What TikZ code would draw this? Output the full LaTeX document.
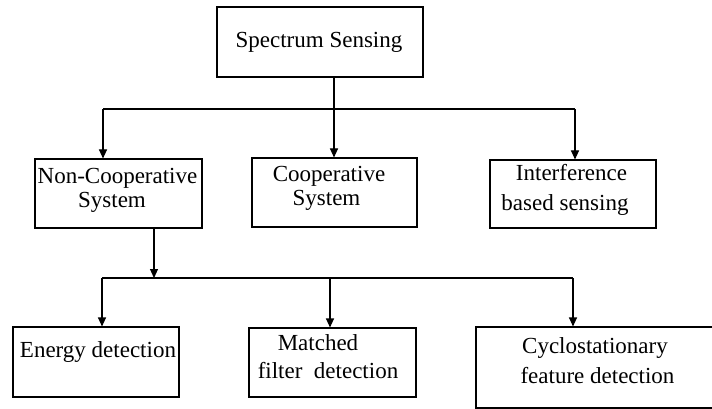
\documentclass[tikz,border=0pt]{standalone}
\usepackage{fontspec}
\setmainfont{Liberation Serif}
\usetikzlibrary{arrows.meta}
\begin{document}
\begin{tikzpicture}[x=1pt,y=-1pt,
  box/.style={draw=black,line width=1.1pt,inner sep=0pt,fill=none},
  lbl/.style={inner sep=0pt,anchor=base,font=\fontsize{23}{25}\selectfont},
  conn/.style={line width=1.1pt,draw=black},
  arr/.style={conn,-{Triangle[length=9pt,width=8pt]}}]
\useasboundingbox (0,0) rectangle (712,409);
\clip (0,0) rectangle (712,409);
\fill[white] (0,0) rectangle (712,409);
% boxes
\node[box,minimum width=206pt,minimum height=70pt] (ss) at (320,42) {};
\node[box,minimum width=167pt,minimum height=69pt] (nc) at (118.5,193.5) {};
\node[box,minimum width=165pt,minimum height=69pt] (coop) at (334.5,192.5) {};
\node[box,minimum width=166pt,minimum height=68pt] (intf) at (573,194) {};
\node[box,minimum width=166pt,minimum height=70pt] (energy) at (96,362) {};
\node[box,minimum width=167pt,minimum height=69pt] (matched) at (332.5,362.5) {};
\node[box,minimum width=264pt,minimum height=81pt] (cyclo) at (608,367.5) {};
% texts
\node[lbl] (ssT) at (319,48) {Spectrum Sensing};
\node[lbl] (ncT1) at (117.5,183) {Non-Cooperative};
\node[lbl] (ncT2) at (112,207) {System};
\node[lbl] (coT1) at (329,182) {Cooperative};
\node[lbl] (coT2) at (326.5,205) {System};
\node[lbl] (inT1) at (571.5,180) {Interference};
\node[lbl] (inT2) at (565,210) {based sensing};
\node[lbl] (enT) at (98,357) {Energy detection};
\node[lbl] (maT1) at (318,350) {Matched};
\node[lbl] (maT2) at (328,378) {filter\ \ detection};
\node[lbl] (cyT1) at (595,353) {Cyclostationary};
\node[lbl] (cyT2) at (597.5,383) {feature detection};
% first level connectors
\coordinate (b1L) at (103,109);
\coordinate (b1M) at (334,109);
\coordinate (b1R) at (575,109);
\draw[conn] (b1L) -- (b1R);
\draw[conn] (b1M |- ss.south) -- (b1M);
\draw[arr] (b1L) -- (b1L |- nc.north);
\draw[arr] (b1M) -- (b1M |- coop.north);
\draw[arr] (b1R) -- (b1R |- intf.north);
% second level connectors
\coordinate (t2) at (154,278);
\coordinate (b2L) at (102,278);
\coordinate (b2M) at (330,278);
\coordinate (b2R) at (573,278);
\draw[arr] (t2 |- nc.south) -- (t2);
\draw[conn] (b2L) -- (b2R);
\draw[arr] (b2L) -- (b2L |- energy.north);
\draw[arr] (b2M) -- (b2M |- matched.north);
\draw[arr] (b2R) -- (b2R |- cyclo.north);
\end{tikzpicture}
\end{document}
